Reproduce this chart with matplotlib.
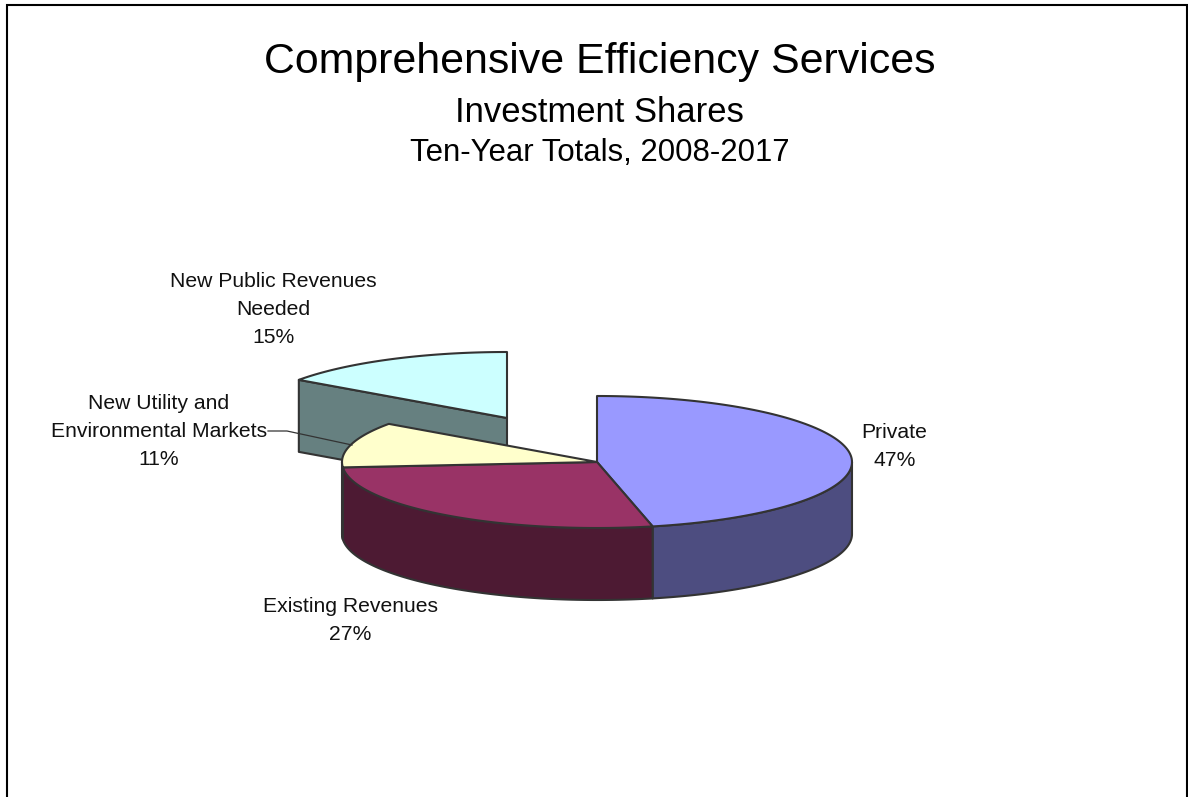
import numpy as np
import matplotlib
matplotlib.use('Agg')
import matplotlib.pyplot as plt

plt.rcParams['font.family'] = ['Liberation Sans', 'DejaVu Sans']

labels = ['Private', 'Existing Revenues', 'New Utility and\nEnvironmental Markets', 'New Public Revenues\nNeeded']
shares = [46.5, 27.2, 11.1, 15.2]
shown_pct = ['47%', '27%', '11%', '15%']
top_colors = ['#9999FF', '#993366', '#FFFFCC', '#CCFFFF']
side_colors = ['#4D4D80', '#4D1A33', '#808066', '#668080']
edge = '#333333'

# pie geometry in pixels
cx, cy = 597, 462
rx, ry = 255, 66
depth = 72
# last slice is pulled out to here
ex_cx, ex_cy = 507, 418

def ell(t, x0=cx, y0=cy):
    t = np.radians(t)
    return x0 + rx * np.sin(t), y0 - ry * np.cos(t)

def wedge(t0, t1, x0=cx, y0=cy):
    ts = np.linspace(t0, t1, 120)
    x, y = ell(ts, x0, y0)
    return np.r_[x0, x, x0], np.r_[y0, y, y0]

def wall(t0, t1):
    ts = np.linspace(t0, t1, 120)
    x, y = ell(ts)
    return np.r_[x, x[::-1]], np.r_[y, y[::-1] + depth]

edges = np.cumsum([0] + shares) / sum(shares) * 360

fig = plt.figure(figsize=(11.88, 7.97), dpi=100)
ax = fig.add_axes([0, 0, 1, 1])
ax.set_xlim(0, 1188)
ax.set_ylim(797, 0)
ax.axis('off')

# chart frame, runs off the bottom of the picture
ax.plot([6.5, 6.5, 1186.5, 1186.5], [797, 4.5, 4.5, 797], color='black', lw=1.5, solid_joinstyle='miter')

ax.text(600, 73, 'Comprehensive Efficiency Services', ha='center', va='baseline', fontsize=30.9, color='black')
ax.text(599.5, 122, 'Investment Shares', ha='center', va='baseline', fontsize=24.9, color='black')
ax.text(600, 161, 'Ten-Year Totals, 2008-2017', ha='center', va='baseline', fontsize=22.4, color='black')

# pulled out slice first, the main pie sits in front of it
t0, t1 = edges[3], edges[4]
cor_x, cor_y = ell(t0, ex_cx, ex_cy)
ax.fill([cor_x, ex_cx, ex_cx, cor_x], [cor_y, ex_cy, ex_cy + depth, cor_y + depth],
        facecolor=side_colors[3], edgecolor=edge, lw=1.5, joinstyle='round')
x, y = wedge(t0, t1, ex_cx, ex_cy)
ax.fill(x, y, facecolor=top_colors[3], edgecolor=edge, lw=1.5, joinstyle='round')

# leader line for the utility label
ax.plot([268, 287, 352], [431, 431, 445], color=edge, lw=0.9)

# outer walls of the main pie, only the front half shows
for i in range(3):
    t0, t1 = max(edges[i], 90), min(edges[i + 1], 270)
    if t1 > t0:
        x, y = wall(t0, t1)
        ax.fill(x, y, facecolor=side_colors[i], edgecolor=edge, lw=1.5, joinstyle='round')

# tops
for i in range(3):
    x, y = wedge(edges[i], edges[i + 1])
    ax.fill(x, y, facecolor=top_colors[i], edgecolor=edge, lw=1.5, joinstyle='round')

# slice labels
label_pos = [(894.5, 446.5), (350.5, 620.5), (159, 431.5), (273, 309.5)]
for name, pct, (lx, ly) in zip(labels, shown_pct, label_pos):
    ax.text(lx, ly, name + '\n' + pct, ha='center', va='center', fontsize=15.2,
            color='#111111', linespacing=1.6)

fig.savefig('out.png', dpi=100)
